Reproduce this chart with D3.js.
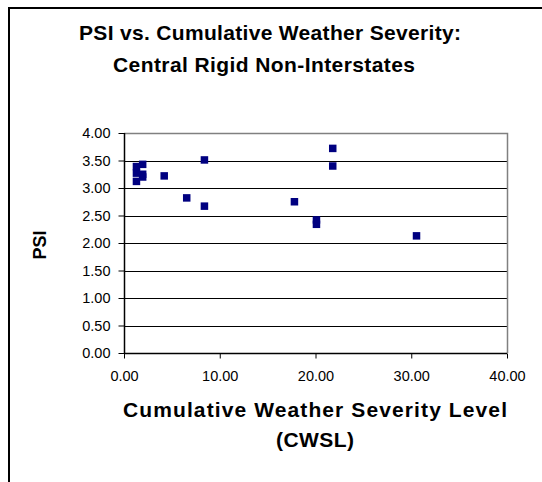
<!DOCTYPE html>
<html><head><meta charset="utf-8">
<script src="https://cdn.jsdelivr.net/npm/d3@7"></script>
<style>body{margin:0;background:#fff}svg{display:block}</style>
</head><body>
<svg id="c" width="542" height="482"></svg>
<script>
const cwsl = [1.3, 1.3, 1.3, 1.95, 1.95, 1.95, 4.2, 6.55, 8.4, 8.4, 17.8, 20.1, 20.1, 21.8, 21.8, 30.55];
const psi  = [3.39, 3.27, 3.12, 3.43, 3.25, 3.20, 3.22, 2.82, 3.51, 2.67, 2.75, 2.42, 2.34, 3.72, 3.40, 2.13];
const xTicks = [0, 10, 20, 30, 40];
const yTicks = [0, 0.5, 1, 1.5, 2, 2.5, 3, 3.5, 4];
const titleLines = ["PSI vs. Cumulative Weather Severity:", "Central Rigid Non-Interstates"];
const xTitleLines = ["Cumulative Weather Severity Level", "(CWSL)"];
const yTitle = "PSI";

const svg = d3.select("#c");
const font = "Arial, 'Liberation Sans', sans-serif";
svg.append("rect").attr("x", 9).attr("y", 8).attr("width", 560).attr("height", 500)
  .attr("fill", "#fff").attr("stroke", "#000").attr("stroke-width", 2);

const L = 124, R = 507, T = 133, B = 353;
const x = d3.scaleLinear().domain([0, 40]).range([L, R]);
const y = d3.scaleLinear().domain([0, 4]).range([B, T]);

// gridlines
svg.append("g").selectAll("line").data(yTicks.filter(d => d > 0 && d < 4)).join("line")
  .attr("x1", L).attr("x2", R).attr("y1", d => Math.round(y(d)) + 0.5).attr("y2", d => Math.round(y(d)) + 0.5)
  .attr("stroke", "#000").attr("stroke-width", 1);
// plot border (gray top and right)
svg.append("path").attr("d", `M${L},${T + 0.5}H${R + 0.5}V${B}`)
  .attr("fill", "none").attr("stroke", "#808080").attr("stroke-width", 1.5);

const xAxis = svg.append("g").attr("transform", `translate(0,${B + 0.5})`)
  .call(d3.axisBottom(x).tickValues(xTicks).tickFormat(d3.format(".2f")).tickSizeOuter(0).tickSize(5).tickPadding(12));
const yAxis = svg.append("g").attr("transform", `translate(${L + 0.5},0)`)
  .call(d3.axisLeft(y).tickValues(yTicks).tickFormat(d3.format(".2f")).tickSizeOuter(0).tickSize(6).tickPadding(8));
[xAxis, yAxis].forEach(g => {
  g.selectAll("text").attr("font-family", font).attr("font-size", 14.5).attr("fill", "#000");
  g.selectAll("line").attr("stroke", "#000");
  g.select(".domain").attr("stroke", "#000").attr("stroke-width", 1.5);
});
yAxis.select(".domain").attr("d", `M0,${T}V${B}`);
xAxis.select(".domain").attr("d", `M${L},0H${R}`);

// points
svg.append("g").selectAll("rect").data(cwsl.map((c, i) => [c, psi[i]])).join("rect")
  .attr("x", d => x(d[0]) - 3.75).attr("y", d => y(d[1]) - 3.75)
  .attr("width", 7.5).attr("height", 7.5).attr("fill", "#000080");

// titles
const tCenters = [270, 264], tWidths = [382, 302];
svg.append("g").selectAll("text").data(titleLines).join("text")
  .attr("font-family", font).attr("font-weight", "bold").attr("font-size", 21)
  .attr("text-anchor", "middle")
  .attr("x", (d, i) => tCenters[i]).attr("y", (d, i) => 40 + i * 32)
  .attr("textLength", (d, i) => tWidths[i]).attr("lengthAdjust", "spacing")
  .text(d => d);
const xtWidths = [384, 78];
svg.append("g").selectAll("text").data(xTitleLines).join("text")
  .attr("font-family", font).attr("font-weight", "bold").attr("font-size", 21)
  .attr("text-anchor", "middle")
  .attr("x", 315).attr("y", (d, i) => 417 + i * 30)
  .attr("textLength", (d, i) => xtWidths[i]).attr("lengthAdjust", "spacing")
  .text(d => d);
svg.append("text").attr("font-family", font).attr("font-weight", "bold")
  .attr("font-size", 18).attr("text-anchor", "middle")
  .attr("transform", "translate(46,245) rotate(-90)").text(yTitle);
</script>
</body></html>
